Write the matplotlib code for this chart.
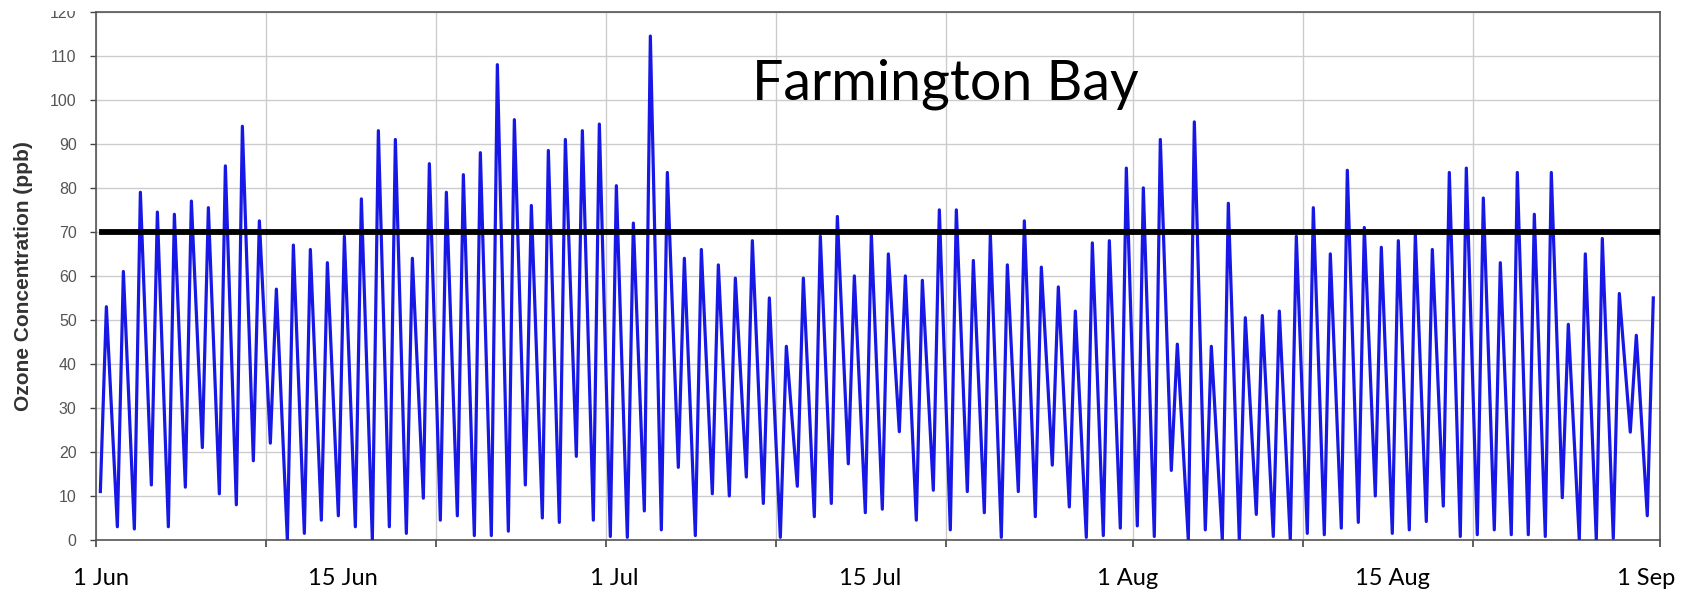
import matplotlib
matplotlib.use('Agg')
from matplotlib import pyplot as plt
from matplotlib.patches import Rectangle
from matplotlib.transforms import ScaledTranslation
import matplotlib.dates as mdates
from datetime import datetime, timedelta

START = datetime(2017, 6, 1)
END = datetime(2017, 9, 1)

# daily low / high ozone (ppb), 1 Jun .. 31 Aug
daily_min = [11, 3, 2.5, 12.5, 3, 12, 21, 10.5, 8, 18,
             22, 0, 1.5, 4.5, 5.5, 3, 0, 3, 1.5, 9.5,
             4.5, 5.5, 1, 1, 2, 12.5, 5, 4, 19, 4.5,
             0.8, 0.6, 6.6, 2.3, 16.5, 1, 10.5, 10, 14.3, 8.3,
             0.6, 12.2, 5.3, 8.3, 17.3, 6.2, 7, 24.6, 4.5, 11.3,
             2.3, 11, 6.2, 0.6, 11, 5.3, 17, 7.5, 0.6, 1,
             2.7, 3.2, 0.8, 15.8, 0, 2.3, 0, 0, 5.8, 0.8,
             0, 1.5, 1.2, 2.7, 4, 10, 1.5, 2.3, 4.2, 7.7,
             0.8, 1.2, 2.3, 1.2, 1.2, 0.8, 9.6, 0, 0, 0.4,
             24.5, 5.5]
daily_max = [53, 61, 79, 74.5, 74, 77, 75.5, 85, 94, 72.5,
             57, 67, 66, 63, 69, 77.5, 93, 91, 64, 85.5,
             79, 83, 88, 108, 95.5, 76, 88.5, 91, 93, 94.5,
             80.5, 72, 114.5, 83.5, 64, 66, 62.5, 59.5, 68, 55,
             44, 59.5, 69, 73.5, 60, 69.5, 65, 60, 59, 75,
             75, 63.5, 69.5, 62.5, 72.5, 62, 57.5, 52, 67.5, 68,
             84.5, 80, 91, 44.5, 95, 44, 76.5, 50.5, 51, 52,
             69, 75.5, 65, 84, 71, 66.5, 68, 69.5, 66, 83.5,
             84.5, 77.7, 63, 83.5, 74, 83.5, 49, 65, 68.5, 56,
             46.5, 55]

standard = 70
label_text = ['1 Jun', '15 Jun', '1 Jul', '15 Jul', '1 Aug', '15 Aug', '1 Sep']
label_dates = [datetime(2017, 6, 1), datetime(2017, 6, 15), datetime(2017, 7, 1),
               datetime(2017, 7, 15), datetime(2017, 8, 1), datetime(2017, 8, 15),
               datetime(2017, 9, 1)]

# morning low then afternoon high for each day
times = []
values = []
for i in range(len(daily_min)):
    day = START + timedelta(days=i)
    times.append(day + timedelta(hours=6))
    values.append(daily_min[i])
    times.append(day + timedelta(hours=14.5))
    values.append(daily_max[i])

fig = plt.figure(figsize=(16.86, 5.94), dpi=100)
ax = fig.add_axes([0.057, 0.091, 0.9276, 0.889])

ax.plot(times, values, color='#1717e6', lw=2.3, zorder=3)
ax.axhline(standard, xmin=0.004, color='black', lw=4.2, zorder=4)

ax.set_xlim(START, END)
ax.set_ylim(0, 120)
ax.set_yticks(range(0, 121, 10))

ax.xaxis.remove_overlapping_locs = False
ax.xaxis.set_major_locator(mdates.DayLocator(bymonthday=[1, 11, 21]))
ax.xaxis.set_major_formatter(plt.NullFormatter())
ax.set_xticks(label_dates, minor=True)
ax.set_xticklabels(label_text, minor=True, fontfamily='Lato', fontsize=17)
ax.tick_params(axis='x', which='minor', length=0, pad=20)
ax.tick_params(axis='x', which='major', length=5, color='#444444', width=1.2)
ax.tick_params(axis='y', length=4, color='#444444', width=1, pad=10,
               labelsize=11.5, labelcolor='#555555')
for t in ax.get_yticklabels():
    t.set_fontfamily('Liberation Sans')

# the date labels sit a little off their dates in the original slide
nudges = [5, 9, 8, 26, -5, 21, -14]
for t, dx in zip(ax.xaxis.get_minorticklabels(), nudges):
    t.set_transform(t.get_transform() + ScaledTranslation(dx / 100, 0, fig.dpi_scale_trans))

ax.grid(True, which='major', color='#cccccc', lw=1)
for s in ax.spines.values():
    s.set_color('#555555')
    s.set_linewidth(1.2)

ax.set_ylabel('Ozone Concentration (ppb)', fontsize=15, fontweight='bold',
              fontfamily='Liberation Sans', color='#333333', labelpad=12)

ax.text(0.543, 0.835, 'Farmington Bay', transform=ax.transAxes, ha='center',
        va='baseline', fontfamily='Lato', fontsize=40, color='black', zorder=5)

# top of the slide crop cuts through the "120" label
fig.add_artist(Rectangle((0, 1 - 11 / 594), 0.054, 11 / 594, transform=fig.transFigure,
                         facecolor='white', edgecolor='none', zorder=10))

fig.savefig('out.png', dpi=100)
